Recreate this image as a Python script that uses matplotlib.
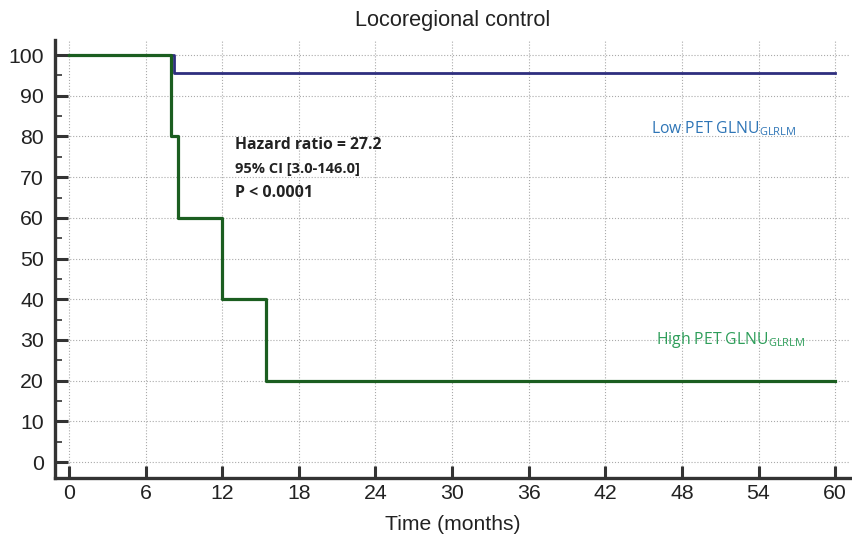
import matplotlib
matplotlib.use("Agg")
import matplotlib.pyplot as plt
from matplotlib.ticker import MultipleLocator

# Kaplan-Meier curves
low_t = [0, 8.2, 60]
low_s = [100, 95.5, 95.5]
high_t = [0, 8.0, 8.5, 12.0, 15.4, 60]
high_s = [100, 80, 60, 40, 20, 20]

x_ticks = [0, 6, 12, 18, 24, 30, 36, 42, 48, 54, 60]
y_ticks = [0, 10, 20, 30, 40, 50, 60, 70, 80, 90, 100]

stats = ["Hazard ratio = 27.2", "95% CI [3.0-146.0]", "P < 0.0001"]

plt.rcParams['font.family'] = ['Liberation Sans', 'DejaVu Sans']
plt.rcParams['mathtext.fontset'] = 'custom'

fig = plt.figure(figsize=(8.53, 5.41), dpi=100)
ax = fig.add_axes([0.0645, 0.1165, 0.9325, 0.8095])

ax.plot(low_t, low_s, drawstyle='steps-post', color='#2e2e7e', lw=2.0)
ax.plot(high_t, high_s, drawstyle='steps-post', color='#1b5e20', lw=2.3)

ax.set_xlim(-1.1, 61.2)
ax.set_ylim(-3.9, 103.7)
ax.set_xticks(x_ticks)
ax.set_yticks(y_ticks)
ax.yaxis.set_minor_locator(MultipleLocator(5))
ax.grid(True, which='major', linestyle=':', color='#aaaaaa', lw=0.8)

for s in ['top', 'right']:
    ax.spines[s].set_visible(False)
for s in ['left', 'bottom']:
    ax.spines[s].set_linewidth(2.4)
    ax.spines[s].set_color('#333333')

ax.tick_params(axis='both', which='major', direction='in', length=9,
               width=2.2, color='#333333', labelsize=15.3, labelcolor='#222222')
ax.tick_params(axis='y', which='minor', direction='in', length=5,
               width=1.2, color='#333333')
ax.tick_params(axis='x', pad=4)
ax.tick_params(axis='y', pad=8)

ax.set_title("Locoregional control", fontsize=15.7, color='#222222', pad=10)
ax.set_xlabel("Time (months)", fontsize=15.2, color='#222222', labelpad=9)

ax.text(13.0, 78, stats[0], fontsize=11.3, fontweight='bold', color='#222222',
        family=['Open Sans', 'DejaVu Sans'], va='center')
ax.text(13.0, 72, stats[1], fontsize=10.5, fontweight='bold', color='#222222',
        family=['Open Sans', 'DejaVu Sans'], va='center')
ax.text(13.0, 66, stats[2], fontsize=11.5, fontweight='bold', color='#222222',
        family=['Open Sans', 'DejaVu Sans'], va='center')

ax.text(45.6, 82, r"Low PET GLNU$_{\mathregular{GLRLM}}$", fontsize=11.3,
        color='#2e75b6', family=['Open Sans', 'DejaVu Sans'], va='center')
ax.text(46.0, 30, r"High PET GLNU$_{\mathregular{GLRLM}}$", fontsize=11.3,
        color='#2e9e5a', family=['Open Sans', 'DejaVu Sans'], va='center')

fig.savefig("out.png", dpi=100)
